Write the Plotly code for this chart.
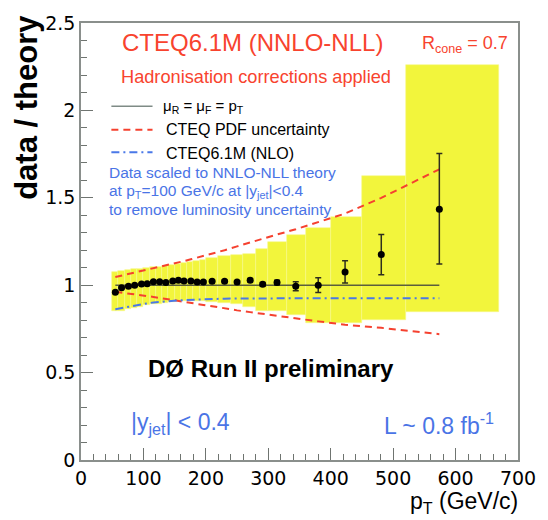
import plotly.graph_objects as go

# ---------------- data ----------------
pt = [55, 65, 76, 86, 97, 106, 116, 126, 136, 147, 156, 165, 176, 186, 196,
      210, 230, 250, 271, 291, 314, 344, 380, 423, 481, 574]
ratio = [0.960, 0.985, 0.994, 1.000, 1.007, 1.009, 1.020, 1.020, 1.016, 1.024,
         1.028, 1.024, 1.024, 1.018, 1.018, 1.022, 1.022, 1.018, 1.029, 1.005,
         1.015, 0.994, 1.000, 1.075, 1.175, 1.435]
err_up = [0.005, 0.004, 0.004, 0.004, 0.004, 0.004, 0.004, 0.004, 0.004, 0.004,
          0.005, 0.005, 0.005, 0.005, 0.006, 0.006, 0.007, 0.008, 0.009, 0.011,
          0.014, 0.026, 0.042, 0.065, 0.115, 0.318]
err_dn = [0.005, 0.004, 0.004, 0.004, 0.004, 0.004, 0.004, 0.004, 0.004, 0.004,
          0.005, 0.005, 0.005, 0.005, 0.006, 0.006, 0.007, 0.008, 0.009, 0.011,
          0.014, 0.026, 0.042, 0.063, 0.115, 0.314]

# systematic uncertainty band, per bin
bin_lo = [50, 60, 70, 80, 90, 100, 110, 120, 130, 140, 150, 160, 170, 180, 190,
          200, 220, 240, 260, 280, 300, 330, 360, 400, 450, 520]
bin_hi = [60, 70, 80, 90, 100, 110, 120, 130, 140, 150, 160, 170, 180, 190, 200,
          220, 240, 260, 280, 300, 330, 360, 400, 450, 520, 670]
band_up = [1.075, 1.080, 1.085, 1.090, 1.095, 1.100, 1.103, 1.107, 1.112, 1.117,
           1.122, 1.128, 1.134, 1.140, 1.146, 1.155, 1.165, 1.170, 1.178, 1.205,
           1.245, 1.290, 1.330, 1.390, 1.625, 2.260]
band_dn = [0.850, 0.855, 0.862, 0.870, 0.877, 0.884, 0.890, 0.895, 0.900, 0.905,
           0.907, 0.908, 0.909, 0.909, 0.908, 0.902, 0.897, 0.890, 0.878, 0.852,
           0.850, 0.830, 0.785, 0.785, 0.800, 0.846]

# theory curves (ratio to NNLO-NLL, mu = pT)
theory_x = [55, 574]
theory_y = [1.0, 1.0]
pdf_up = [1.047, 1.055, 1.064, 1.073, 1.082, 1.089, 1.096, 1.103, 1.112, 1.122,
          1.130, 1.138, 1.148, 1.157, 1.167, 1.180, 1.200, 1.222, 1.245, 1.265,
          1.290, 1.320, 1.360, 1.410, 1.500, 1.663]
pdf_dn = [0.962, 0.958, 0.953, 0.948, 0.943, 0.938, 0.933, 0.927, 0.921, 0.914,
          0.908, 0.903, 0.897, 0.892, 0.887, 0.880, 0.866, 0.856, 0.846, 0.836,
          0.822, 0.808, 0.793, 0.774, 0.756, 0.720]
nlo = [0.863, 0.870, 0.877, 0.884, 0.890, 0.896, 0.901, 0.905, 0.908, 0.911,
       0.913, 0.915, 0.917, 0.919, 0.920, 0.921, 0.923, 0.924, 0.925, 0.925,
       0.925, 0.925, 0.925, 0.925, 0.925, 0.925]

x_ticks = [0, 100, 200, 300, 400, 500, 600, 700]
y_ticks = [0, 0.5, 1, 1.5, 2, 2.5]

# ---------------- figure ----------------
L, T, W, H = 81, 14, 446, 446
FIG_W, FIG_H = 548, 520


def px(x):
    return (x - L) / W


def py(y):
    return (T + H - y) / H


RED = "#f8432e"
BLUE = "#4a74e6"
FONT = "Liberation Sans, Arial, sans-serif"

centers = [(a + b) / 2 for a, b in zip(bin_lo, bin_hi)]
widths = [b - a for a, b in zip(bin_lo, bin_hi)]
heights = [u - d for u, d in zip(band_up, band_dn)]

fig = go.Figure()
fig.add_trace(go.Bar(x=centers, y=heights, base=band_dn, width=widths,
                     marker=dict(color="#f2f53c",
                                 line=dict(color="#f6f88c", width=0.6)),
                     showlegend=False, hoverinfo="skip"))
fig.add_trace(go.Scatter(x=pt, y=pdf_up, mode="lines",
                         line=dict(color="#f5412f", width=2, dash="7px,5px"),
                         showlegend=False))
fig.add_trace(go.Scatter(x=pt, y=pdf_dn, mode="lines",
                         line=dict(color="#f5412f", width=2, dash="7px,5px"),
                         showlegend=False))
fig.add_trace(go.Scatter(x=pt, y=nlo, mode="lines",
                         line=dict(color="#4a78e8", width=2,
                                   dash="8px,4px,2px,4px"),
                         showlegend=False))
fig.add_trace(go.Scatter(x=theory_x, y=theory_y, mode="lines",
                         line=dict(color="#5b5e3c", width=1.5),
                         showlegend=False))
fig.add_trace(go.Scatter(x=pt, y=ratio, mode="markers",
                         marker=dict(color="black", size=7),
                         error_y=dict(type="data", symmetric=False,
                                      array=err_up, arrayminus=err_dn,
                                      color="#2e2e1e", thickness=1.5, width=3),
                         showlegend=False))

axis_common = dict(showline=True, linecolor="#8a8f8c", linewidth=1.5,
                   mirror=True, ticks="inside", tickcolor="#6f7470",
                   tickwidth=1.2, showgrid=False, zeroline=False,
                   tickfont=dict(family="DejaVu Sans", size=19, color="black"))
fig.update_xaxes(range=[0, 700], tickvals=x_ticks, ticklen=12,
                 minor=dict(dtick=20, ticks="inside", ticklen=6,
                            tickcolor="#6f7470", tickwidth=1.2),
                 **axis_common)
fig.update_yaxes(range=[0, 2.5], tickvals=y_ticks, ticklen=12,
                 minor=dict(dtick=0.1, ticks="inside", ticklen=6,
                            tickcolor="#6f7470", tickwidth=1.2),
                 **axis_common)

ann = []


def text(x, y, s, size, color="black", xanchor="left", bold=False, **kw):
    if bold:
        s = "<b>" + s + "</b>"
    ann.append(dict(x=px(x), y=py(y), xref="paper", yref="paper", text=s,
                    showarrow=False, xanchor=xanchor, yanchor="middle",
                    font=dict(family=FONT, size=size, color=color), **kw))


text(121, 34, "CTEQ6.1M (NNLO-NLL)", 24, RED)
text(427, 36, "R<sub>cone</sub> = 0.7", 18, RED)
text(120, 69, "Hadronisation corrections applied", 18.2, RED)
text(163, 99, "μ<sub>R</sub> = μ<sub>F</sub> = p<sub>T</sub>", 15)
text(166, 123, "CTEQ PDF uncertainty", 16)
text(166, 147, "CTEQ6.1M (NLO)", 16)
text(108, 167, "Data scaled to NNLO-NLL theory", 15.5, BLUE)
text(108, 185.5, "at p<sub>T</sub>=100 GeV/c at |y<sub>jet</sub>|<0.4", 15.5, BLUE)
text(108, 204, "to remove luminosity uncertainty", 15.5, BLUE)
text(147, 367, "DØ Run II preliminary", 24, bold=True)
text(130, 423, "|y<sub>jet</sub>| < 0.4", 23, BLUE)
text(388, 423, "L ~ 0.8 fb<sup>-1</sup>", 23, BLUE)
text(529, 503, "p<sub>T</sub> (GeV/c)", 23, xanchor="right")
ann.append(dict(x=px(26), y=py(4), xref="paper", yref="paper",
                text="<b>data / theory</b>", showarrow=False, textangle=-90,
                xanchor="center", yanchor="top",
                font=dict(family=FONT, size=31, color="black")))

shapes = [
    dict(type="line", xref="paper", yref="paper", x0=px(112), x1=px(154),
         y0=py(99), y1=py(99), line=dict(color="#7f8b86", width=1.5)),
    dict(type="line", xref="paper", yref="paper", x0=px(112), x1=px(154),
         y0=py(123), y1=py(123),
         line=dict(color="#f5412f", width=2, dash="7px,5px")),
    dict(type="line", xref="paper", yref="paper", x0=px(112), x1=px(154),
         y0=py(146), y1=py(146),
         line=dict(color="#4a78e8", width=2, dash="8px,4px,2px,4px")),
]

fig.update_layout(width=FIG_W, height=FIG_H,
                  margin=dict(l=L, r=FIG_W - L - W, t=T, b=FIG_H - T - H),
                  plot_bgcolor="white", paper_bgcolor="white",
                  annotations=ann, shapes=shapes, showlegend=False,
                  bargap=0)

fig.write_html("out.html")
